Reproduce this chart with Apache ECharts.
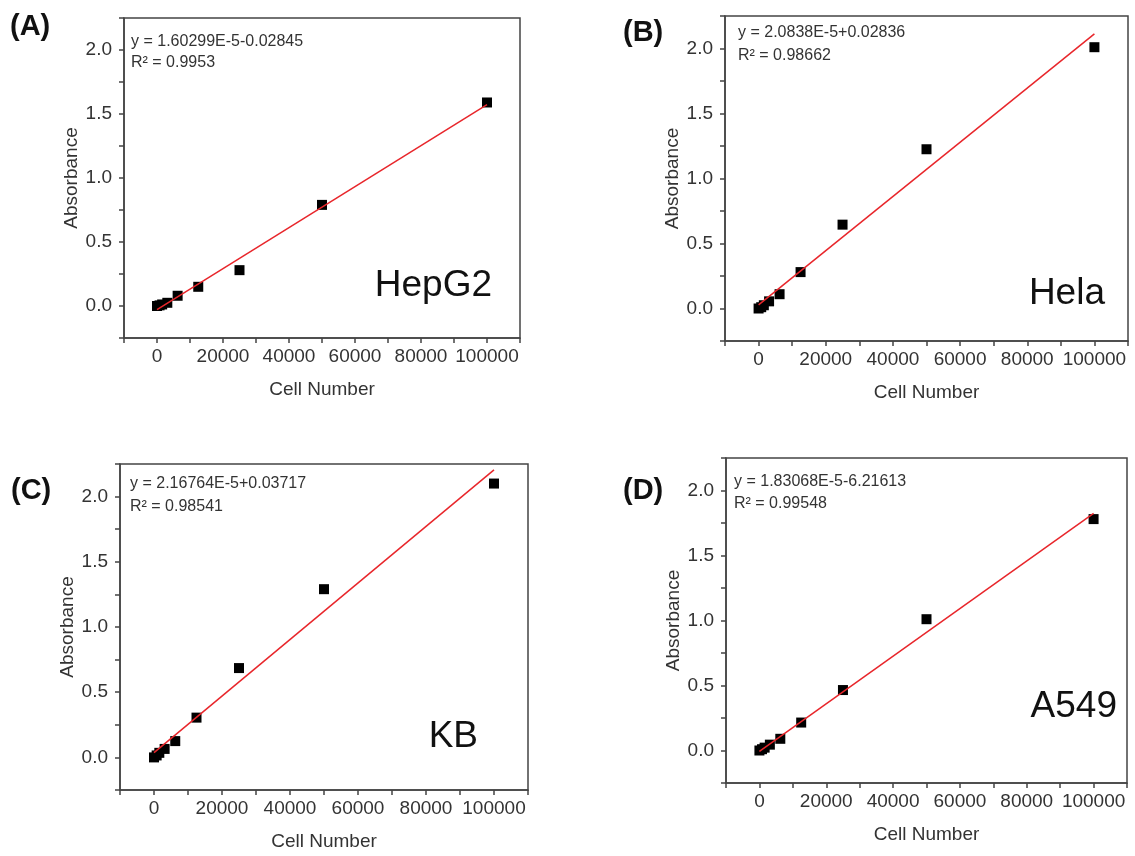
<!DOCTYPE html>
<html>
<head>
<meta charset="utf-8">
<script src="https://cdn.jsdelivr.net/npm/echarts@6/dist/echarts.min.js"></script>
<style>
  html, body { margin: 0; padding: 0; background: #fff; }
  #calib { width: 1135px; height: 856px; }
</style>
</head>
<body>
<div id="calib"></div>
<script>
// serial dilution of cells (x) and measured absorbance per cell line
const cellNumbers = [0, 781, 1563, 3125, 6250, 12500, 25000, 50000, 100000];
const absHepG2 = [0, 0.005, 0.012, 0.025, 0.08, 0.15, 0.28, 0.79, 1.59];
const absHela = [0, 0.01, 0.025, 0.055, 0.11, 0.28, 0.645, 1.225, 2.01];
const absKB = [0, 0.015, 0.035, 0.065, 0.125, 0.305, 0.685, 1.29, 2.1];
const absA549 = [0, 0.01, 0.022, 0.045, 0.09, 0.215, 0.465, 1.01, 1.78];

// fitted line ends (x = 0 and x = 100000)
const fitX = [0, 100000];
const fitHepG2 = [-0.028, 1.574];
const fitHela = [0.028, 2.112];
const fitKB = [0.037, 2.205];
const fitA549 = [-0.006, 1.824];

const panelLabels = ["(A)", "(B)", "(C)", "(D)"];
const cellLines = ["HepG2", "Hela", "KB", "A549"];
const equations = [
  "y = 1.60299E-5-0.02845",
  "y = 2.0838E-5+0.02836",
  "y = 2.16764E-5+0.03717",
  "y = 1.83068E-5-6.21613"
];
const rSquared = ["0.9953", "0.98662", "0.98541", "0.99548"];

const yTicks = [-0.25, 2.25, 0.25];        // min, max, step
const xTicks = [-10000, 110000, 10000];

const allAbs = [absHepG2, absHela, absKB, absA549];
const allFit = [fitHepG2, fitHela, fitKB, fitA549];

// layout of each panel (pixels)
const grids = [
  { left: 124, top: 18, width: 396, height: 320 },
  { left: 725, top: 16, width: 403, height: 325 },
  { left: 120, top: 464, width: 408, height: 326 },
  { left: 726, top: 458, width: 401, height: 325 }
];
const panelPos = [[10, 27], [623, 33], [11, 491], [623, 491]];
const eqPos = [[131, 42, 63], [738, 33, 56], [130, 484, 507], [734, 482, 504]];
const namePos = [[492, 286], [1105, 294], [478, 737], [1117, 707]];

const FONT = "'Liberation Sans', Arial, sans-serif";
const axisColor = "#444";
const textColor = "#333";

const chart = echarts.init(document.getElementById("calib"));

const xAxes = [], yAxes = [], series = [], graphics = [];

grids.forEach((g, i) => {
  xAxes.push({
    type: "value",
    gridIndex: i,
    min: xTicks[0],
    max: xTicks[1],
    interval: xTicks[2],
    name: "Cell Number",
    nameLocation: "middle",
    nameGap: 42,
    nameTextStyle: { fontFamily: FONT, fontSize: 19, color: textColor },
    splitLine: { show: false },
    axisLine: { onZero: false, lineStyle: { color: axisColor, width: 1.5 } },
    axisTick: { length: 5, lineStyle: { color: axisColor, width: 1.5 } },
    axisLabel: {
      margin: 9,
      fontFamily: FONT,
      fontSize: 19,
      color: textColor,
      formatter: (v) => (v % 20000 === 0 ? String(v) : "")
    }
  });
  yAxes.push({
    type: "value",
    gridIndex: i,
    min: yTicks[0],
    max: yTicks[1],
    interval: yTicks[2],
    name: "Absorbance",
    nameLocation: "middle",
    nameGap: 43,
    nameTextStyle: { fontFamily: FONT, fontSize: 19, color: textColor },
    splitLine: { show: false },
    axisLine: { onZero: false, lineStyle: { color: axisColor, width: 1.5 } },
    axisTick: { length: 5, lineStyle: { color: axisColor, width: 1.5 } },
    axisLabel: {
      margin: 12,
      fontFamily: FONT,
      fontSize: 19,
      color: textColor,
      formatter: (v) => (Math.abs(v * 2 - Math.round(v * 2)) < 1e-9 ? v.toFixed(1) : "")
    }
  });

  series.push({
    type: "scatter",
    xAxisIndex: i,
    yAxisIndex: i,
    symbol: "rect",
    symbolSize: 10,
    itemStyle: { color: "#000", opacity: 1 },
    data: cellNumbers.map((x, k) => [x, allAbs[i][k]])
  });
  series.push({
    type: "line",
    xAxisIndex: i,
    yAxisIndex: i,
    showSymbol: false,
    lineStyle: { color: "#e8262b", width: 1.5 },
    data: fitX.map((x, k) => [x, allFit[i][k]])
  });

  graphics.push({
    type: "text",
    x: panelPos[i][0],
    y: panelPos[i][1],
    style: { text: panelLabels[i], font: "bold 29px " + FONT, fill: "#111", align: "left", verticalAlign: "middle" }
  });
  graphics.push({
    type: "text",
    x: eqPos[i][0],
    y: eqPos[i][1],
    style: { text: equations[i], font: "16px " + FONT, fill: textColor, align: "left", verticalAlign: "middle" }
  });
  graphics.push({
    type: "text",
    x: eqPos[i][0],
    y: eqPos[i][2],
    style: { text: "R² = " + rSquared[i], font: "16px " + FONT, fill: textColor, align: "left", verticalAlign: "middle" }
  });
  graphics.push({
    type: "text",
    x: namePos[i][0],
    y: namePos[i][1],
    style: { text: cellLines[i], font: "37px " + FONT, fill: "#111", align: "right", verticalAlign: "middle" }
  });
});

const option = {
  backgroundColor: "#fff",
  animation: false,
  grid: grids.map((g) => ({ ...g, show: true, borderColor: axisColor, borderWidth: 1.5 })),
  xAxis: xAxes,
  yAxis: yAxes,
  series: series,
  graphic: graphics
};

option && chart.setOption(option);
</script>
</body>
</html>
